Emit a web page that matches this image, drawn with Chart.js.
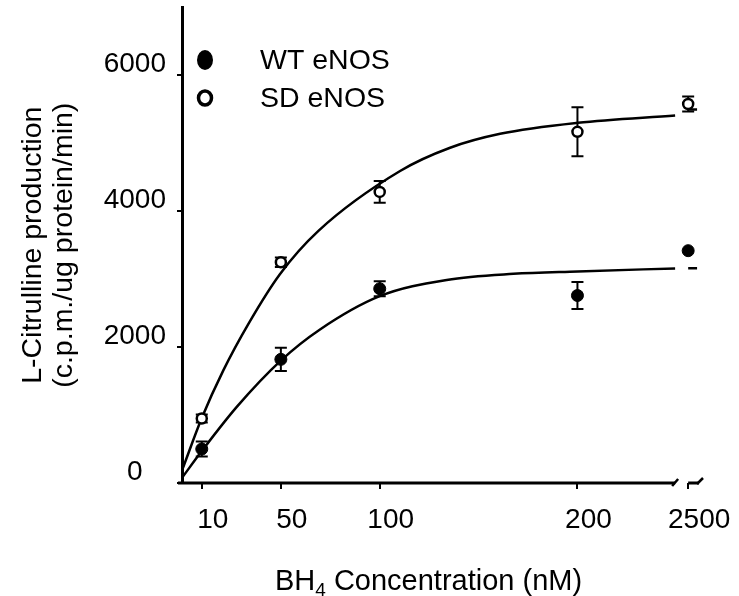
<!DOCTYPE html>
<html>
<head>
<meta charset="utf-8">
<script src="https://cdn.jsdelivr.net/npm/chart.js@4.4.0/dist/chart.umd.min.js"></script>
<style>
html, body { margin: 0; padding: 0; background: #fff; }
</style>
</head>
<body>
<canvas id="chart" width="739" height="596"></canvas>
<script>
// BH4 concentrations; 2500 nM sits just after the axis break
var concLabels = ['10', '50', '100', '200', '2500'];
var concPos = [10, 50, 100, 200, 256];

var wtMean = [500, 1820, 2860, 2760, 3420];
var wtErr = [110, 170, 110, 200, 0];
var sdMean = [950, 3250, 4285, 5170, 5580];
var sdErr = [60, 70, 160, 360, 110];

// fitted curves
var wtFitX = [0.4, 10, 27.7, 50.1, 69.8, 100, 133.9, 167.6, 200.2, 249.4];
var wtFitY = [92, 470, 1120, 1805, 2260, 2750, 2990, 3080, 3115, 3159];
var sdFitX = [0.4, 10, 20.9, 33.6, 49.6, 69, 110.3, 135.6, 160.9, 200.2, 249.4];
var sdFitY = [216, 957, 1658, 2343, 3077, 3712, 4593, 4935, 5140, 5302, 5410];
// short pieces of the fit after the break
var tailX = [256, 260.5];
var wtTailY = [3160, 3160];
var sdTailY = [5500, 5500];

var yTicks = [0, 2000, 4000, 6000];
var breakAt = 249.4;
var axisEnd = 263.5;

var fam = 'Arial, "Liberation Sans", sans-serif';

function pts(xs, ys) {
    return xs.map(function (x, i) { return { x: x, y: ys[i] }; });
}

var extras = {
    id: 'extras',
    beforeDatasetsDraw: function (chart) {
        var ctx = chart.ctx;
        var xs = chart.scales.x, ys = chart.scales.y;
        ctx.save();
        ctx.strokeStyle = '#000';
        ctx.lineWidth = 2;
        [[wtMean, wtErr], [sdMean, sdErr]].forEach(function (s) {
            for (var i = 0; i < concPos.length; i++) {
                if (!s[1][i]) continue;
                var px = xs.getPixelForValue(concPos[i]);
                var top = ys.getPixelForValue(s[0][i] + s[1][i]);
                var bot = ys.getPixelForValue(s[0][i] - s[1][i]);
                ctx.beginPath();
                ctx.moveTo(px, top); ctx.lineTo(px, bot);
                ctx.moveTo(px - 6, top); ctx.lineTo(px + 6, top);
                ctx.moveTo(px - 6, bot); ctx.lineTo(px + 6, bot);
                ctx.stroke();
            }
        });
        ctx.restore();
    },
    afterDraw: function (chart) {
        var ctx = chart.ctx;
        var a = chart.chartArea;
        var xs = chart.scales.x;
        ctx.save();
        // x axis with break
        var y0 = a.bottom;
        var b1 = xs.getPixelForValue(breakAt);
        var b2 = xs.getPixelForValue(concPos[4]);
        var b3 = xs.getPixelForValue(axisEnd);
        ctx.strokeStyle = '#000';
        ctx.lineWidth = 3;
        ctx.beginPath();
        ctx.moveTo(a.left - 4, y0); ctx.lineTo(b1, y0);
        ctx.moveTo(b2, y0); ctx.lineTo(b3 - 4, y0);
        ctx.stroke();
        ctx.lineWidth = 2.5;
        ctx.beginPath();
        ctx.moveTo(b1 - 3, y0 + 3); ctx.lineTo(b1 + 3, y0 - 4);
        ctx.moveTo(b3 - 6, y0 + 1); ctx.lineTo(b3, y0 - 5);
        ctx.stroke();

        // legend
        var lx = a.left + 23;
        ctx.fillStyle = '#000';
        ctx.beginPath();
        ctx.ellipse(lx, 60, 8, 10, 0, 0, Math.PI * 2);
        ctx.fill();
        ctx.lineWidth = 3.5;
        ctx.beginPath();
        ctx.ellipse(lx, 98, 6.5, 7, 0, 0, Math.PI * 2);
        ctx.stroke();
        ctx.font = '28.5px ' + fam;
        ctx.textBaseline = 'middle';
        ctx.textAlign = 'left';
        ctx.fillText(chart.data.datasets[0].label, a.left + 78, 61);
        ctx.fillText(chart.data.datasets[1].label, a.left + 78, 99);

        // x title with subscript
        var tx = a.left + 93, ty = 590;
        ctx.textBaseline = 'alphabetic';
        ctx.font = '29px ' + fam;
        ctx.fillText('BH', tx, ty);
        tx += ctx.measureText('BH').width;
        ctx.font = '19px ' + fam;
        ctx.fillText('4', tx, ty + 6);
        tx += ctx.measureText('4').width;
        ctx.font = '29px ' + fam;
        ctx.fillText(' Concentration (nM)', tx, ty);
        ctx.restore();
    }
};

var lineStyle = {
    type: 'line', showLine: true, borderColor: '#000', borderWidth: 2.5,
    pointRadius: 0, fill: false, cubicInterpolationMode: 'monotone'
};

new Chart(document.getElementById('chart').getContext('2d'), {
    type: 'scatter',
    data: {
        datasets: [
            {
                label: 'WT eNOS', data: pts(concPos, wtMean),
                pointRadius: 6, pointBackgroundColor: '#000', pointBorderColor: '#000', pointBorderWidth: 1
            },
            {
                label: 'SD eNOS', data: pts(concPos, sdMean),
                pointRadius: 5, pointBackgroundColor: '#fff', pointBorderColor: '#000', pointBorderWidth: 2.5
            },
            Object.assign({ label: 'WT fit', data: pts(wtFitX, wtFitY) }, lineStyle),
            Object.assign({ label: 'SD fit', data: pts(sdFitX, sdFitY) }, lineStyle),
            Object.assign({ label: 'WT tail', data: pts(tailX, wtTailY) }, lineStyle),
            Object.assign({ label: 'SD tail', data: pts(tailX, sdTailY) }, lineStyle)
        ]
    },
    options: {
        responsive: false,
        animation: false,
        layout: { padding: { top: 6, right: 36, left: 0, bottom: 0 } },
        plugins: { legend: { display: false }, tooltip: { enabled: false } },
        scales: {
            x: {
                type: 'linear', min: 0, max: axisEnd,
                afterBuildTicks: function (s) { s.ticks = concPos.map(function (v) { return { value: v }; }); },
                afterFit: function (s) { s.height = 113; s.paddingLeft = 0; s.paddingRight = 0; },
                border: { display: false },
                grid: { drawOnChartArea: false, tickLength: 6, color: '#000', lineWidth: 2 },
                ticks: {
                    color: '#000', font: { family: fam, size: 28 }, padding: 14, labelOffset: 11,
                    autoSkip: false, maxRotation: 0,
                    callback: function (v, i) { return concLabels[i]; }
                }
            },
            y: {
                min: 0, max: 7000,
                afterBuildTicks: function (s) { s.ticks = yTicks.map(function (v) { return { value: v }; }); },
                afterFit: function (s) { s.width = 182; s.paddingTop = 0; s.paddingBottom = 0; },
                border: { color: '#000', width: 3 },
                grid: { drawOnChartArea: false, tickLength: 5, color: '#000', lineWidth: 2 },
                ticks: {
                    color: '#000', font: { family: fam, size: 28 }, padding: 11, labelOffset: -11,
                    crossAlign: 'center',
                    callback: function (v) { return String(v); }
                },
                title: {
                    display: true, color: '#000',
                    text: ['L-Citrulline production', '(c.p.m./ug protein/min)'],
                    font: { family: fam, size: 28.5, lineHeight: 1.07 },
                    padding: { top: 18, bottom: 0 }
                }
            }
        }
    },
    plugins: [extras]
});
</script>
</body>
</html>
